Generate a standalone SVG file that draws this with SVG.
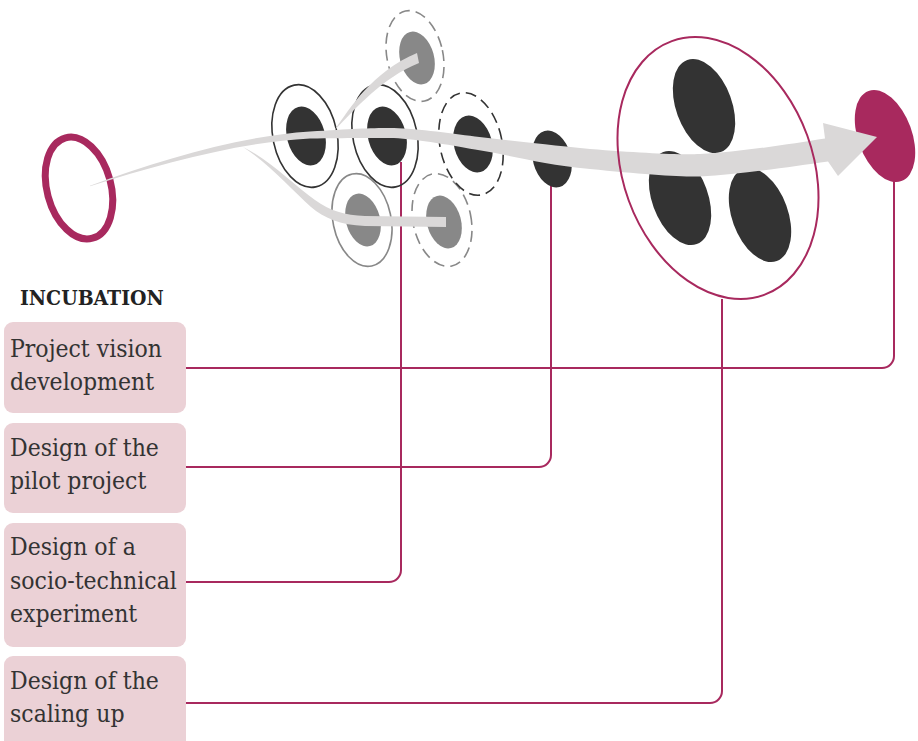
<svg xmlns="http://www.w3.org/2000/svg" width="918" height="741" viewBox="0 0 918 741">
<style>
.box{fill:#EBD1D6}
.lbl{font-family:"DejaVu Serif Condensed","DejaVu Serif",serif;font-size:24.5px;fill:#333}
.ttl{font-family:"DejaVu Serif Condensed","DejaVu Serif",serif;font-size:21px;font-weight:bold;fill:#222}
.link{fill:none;stroke:#A8295E;stroke-width:2}
.dark{fill:#333}
.grey{fill:#888}
.ring{fill:none;stroke:#333;stroke-width:1.6}
.dring{fill:none;stroke:#333;stroke-width:1.6;stroke-dasharray:11 6}
.gring{fill:none;stroke:#888;stroke-width:1.6}
.gdring{fill:none;stroke:#888;stroke-width:1.6;stroke-dasharray:11 6}
.flow{fill:#DAD8D8}
</style>
<rect width="918" height="741" fill="#fff"/>

<g id="connectors">
<path class="link" d="M186,368 H882 A12,12 0 0 0 894,356 V180"/>
<path class="link" d="M186,467 H539 A12,12 0 0 0 551,455 V186"/>
<path class="link" d="M186,582 H389 A12,12 0 0 0 401,570 V162"/>
<path class="link" d="M186,703 H710 A12,12 0 0 0 722,691 V299"/>
</g>

<g id="start">
<ellipse cx="79" cy="188" rx="32" ry="52" transform="rotate(-15 79 188)" fill="none" stroke="#A8295E" stroke-width="7"/>
</g>

<g id="node-top">
<ellipse class="grey" cx="417" cy="58" rx="17" ry="27" transform="rotate(-15 417 58)"/>
<ellipse class="gdring" cx="415" cy="56" rx="28" ry="46" transform="rotate(-12 415 56)"/>
</g>
<g id="node-bl">
<ellipse class="grey" cx="363" cy="220" rx="17" ry="27" transform="rotate(-15 363 220)"/>
<ellipse class="gring" cx="362" cy="220" rx="29" ry="47" transform="rotate(-12 362 220)"/>
</g>
<g id="node-br">
<ellipse class="grey" cx="444" cy="222" rx="17" ry="27" transform="rotate(-15 444 222)"/>
<ellipse class="gdring" cx="442" cy="220" rx="29" ry="47" transform="rotate(-12 442 220)"/>
</g>
<g id="node-1">
<ellipse class="dark" cx="306" cy="136" rx="19" ry="30" transform="rotate(-15 306 136)"/>
<ellipse class="ring" cx="305" cy="136" rx="32" ry="52" transform="rotate(-12 305 136)"/>
</g>
<g id="node-2">
<ellipse class="dark" cx="387" cy="136" rx="19" ry="30" transform="rotate(-15 387 136)"/>
<ellipse class="ring" cx="385" cy="136" rx="32" ry="52" transform="rotate(-12 385 136)"/>
</g>
<g id="node-3">
<ellipse class="dark" cx="473" cy="144" rx="19" ry="29" transform="rotate(-15 473 144)"/>
<ellipse class="dring" cx="471" cy="144" rx="31" ry="52" transform="rotate(-12 471 144)"/>
</g>
<g id="node-4">
<ellipse class="dark" cx="552" cy="159" rx="19" ry="29" transform="rotate(-15 552 159)"/>
</g>
<g id="scaling-members">
<ellipse class="dark" cx="704" cy="106" rx="28" ry="49" transform="rotate(-20 704 106)"/>
<ellipse class="dark" cx="680" cy="198" rx="28" ry="49" transform="rotate(-20 680 198)"/>
<ellipse class="dark" cx="760" cy="215" rx="28" ry="49" transform="rotate(-20 760 215)"/>
</g>
<g id="goal">
<ellipse cx="885" cy="136" rx="27" ry="48" transform="rotate(-20 885 136)" fill="#A8295E"/>
</g>

<g id="flow">
<path class="flow" d="M334,131 C350,108 372,72 417,53 L419,63 C382,78 356,108 334,131 Z"/>
<path class="flow" d="M243,147 C270,160 295,186 315,200 C330,211 345,215 365,216 L446,217 L446,227 L365,226 C340,225 324,218 311,207 C293,191 268,163 243,147 Z"/>
<path class="flow" d="M90,185.7 C160,160 240,136 310,131.5 C350,129 370,128 390,128 C410,128 450,133 475,136.5 C510,140.5 540,144 590,149 C640,153 680,155 700,154 C740,152 790,144 825,138.5 L823,123 L877,137 L838,176 L828,161.5 C790,167 740,174 700,176.5 C680,177 640,174 590,169 C540,164 510,155 475,149.5 C450,145 410,138 390,138 C370,138 350,138 310,138.5 C240,142 160,164 90,186.3 Z"/>
</g>

<g id="scaling-outline">
<ellipse cx="718" cy="168" rx="95" ry="135" transform="rotate(-20 718 168)" fill="none" stroke="#A8295E" stroke-width="2"/>
</g>

<g id="title">
<text class="ttl" x="20" y="305">INCUBATION</text>
</g>
<g id="box-vision">
<rect class="box" x="4" y="322" width="182" height="91" rx="9"/>
<text class="lbl" x="10" y="357">Project vision</text>
<text class="lbl" x="10" y="390">development</text>
</g>
<g id="box-pilot">
<rect class="box" x="4" y="423" width="182" height="90" rx="9"/>
<text class="lbl" x="10" y="456">Design of the</text>
<text class="lbl" x="10" y="489">pilot project</text>
</g>
<g id="box-experiment">
<rect class="box" x="4" y="523" width="182" height="124" rx="9"/>
<text class="lbl" x="10" y="555">Design of a</text>
<text class="lbl" x="10" y="589">socio-technical</text>
<text class="lbl" x="10" y="622">experiment</text>
</g>
<g id="box-scaling">
<rect class="box" x="4" y="656" width="182" height="100" rx="9"/>
<text class="lbl" x="10" y="689">Design of the</text>
<text class="lbl" x="10" y="722">scaling up</text>
</g>
</svg>
